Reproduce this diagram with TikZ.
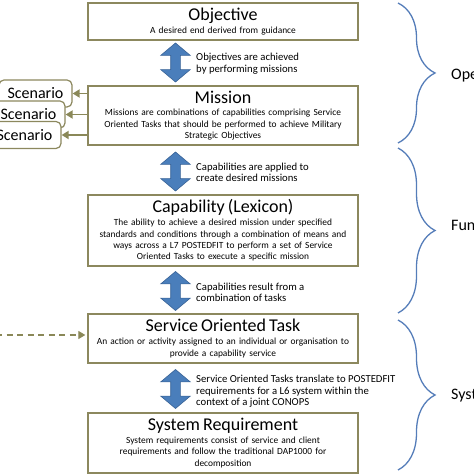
\documentclass[tikz,border=0pt]{standalone}
\usepackage{fontspec}
\setmainfont{Carlito}
\usetikzlibrary{shapes.arrows,arrows.meta,positioning,decorations.pathreplacing}
\definecolor{boxline}{RGB}{140,136,94}
\definecolor{olivetip}{RGB}{138,136,88}
\definecolor{arrowfill}{RGB}{74,126,187}
\definecolor{arrowline}{RGB}{56,98,150}
\definecolor{bracecol}{RGB}{85,125,185}

\newcommand{\boxtitle}[1]{{\fontsize{18}{19}\selectfont #1\par}\vspace{1.5pt}}

\tikzset{
    levelbox/.style={draw=boxline, line width=1.4pt, fill=white, minimum width=270pt, text width=268pt, align=center, inner sep=0pt, font=\fontsize{9.4}{11.4}\selectfont},
    linkarrow/.style={double arrow, draw=arrowline, fill=arrowfill, line width=0.6pt, shape border rotate=90, inner sep=4.5pt, minimum height=39pt, double arrow head extend=10pt, double arrow tip angle=100},
    arrowtext/.style={anchor=west, align=left, inner sep=0pt, font=\fontsize{10.7}{11.5}\selectfont},
    scenbox/.style={draw=boxline, line width=1.2pt, rounded corners=5pt, fill=white, minimum width=73pt, minimum height=27pt, font=\fontsize{16}{18}\selectfont},
    oarrow/.style={draw=olivetip, line width=1.8pt, -{Triangle[length=7pt,width=8pt]}},
    dashlink/.style={draw=olivetip, line width=1.3pt, dash pattern=on 6pt off 4.5pt, -{Triangle[length=7pt,width=8pt]}},
    sidelabel/.style={anchor=west, inner sep=0pt, font=\fontsize{16}{18}\selectfont},
    layerbrace/.style={draw=bracecol, line width=1.3pt, decorate, decoration={brace, amplitude=37pt}}
}

\begin{document}
\begin{tikzpicture}[x=1pt, y=1pt]
    \useasboundingbox (0,0) rectangle (474,474);
    \clip (0,0) rectangle (474,474);

    % the five levels
    \node[levelbox, minimum height=37pt] (objective) at (223,452.5) {\boxtitle{Objective}A desired end derived from guidance};
    \node[levelbox, minimum height=59pt] (mission) at (223,358.5) {\boxtitle{Mission}Missions are combinations of capabilities comprising Service\\Oriented Tasks that should be performed to achieve Military\\Strategic Objectives};
    \node[levelbox, minimum height=71pt] (capability) at (223,243.5) {\boxtitle{Capability (Lexicon)}The ability to achieve a desired mission under specified\\standards and conditions through a combination of means and\\ways across a L7 POSTEDFIT to perform a set of Service\\Oriented Tasks to execute a specific mission};
    \node[levelbox, minimum height=49pt] (task) at (223,135.5) {\boxtitle{Service Oriented Task}An action or activity assigned to an individual or organisation to\\provide a capability service};
    \node[levelbox, minimum height=60pt] (sysreq) at (223,31) {\boxtitle{System Requirement}System requirements consist of service and client\\requirements and follow the traditional DAP1000 for\\decomposition};

    % links between levels
    \node[linkarrow] (link1) at (175.5,411.5) {};
    \node[linkarrow] (link2) at (175.5,302.5) {};
    \node[linkarrow] (link3) at (175.5,183) {};
    \node[linkarrow] (link4) at (175.5,85) {};

    \node[arrowtext] (linktext1) at (196,410.5) {Objectives are achieved\\by performing missions};
    \node[arrowtext] (linktext2) at (196,301.5) {Capabilities are applied to\\create desired missions};
    \node[arrowtext] (linktext3) at (196,181.5) {Capabilities result from a\\combination of tasks};
    \node[arrowtext] (linktext4) at (196,82.5) {Service Oriented Tasks translate to POSTEDFIT\\requirements for a L6 system within the\\context of a joint CONOPS};

    % scenarios
    \node[scenbox] (scen1) at (35.5,380.5) {Scenario};
    \node[scenbox] (scen2) at (28.5,359.5) {Scenario};
    \node[scenbox] (scen3) at (24.5,339) {Scenario};

    \draw[oarrow] (mission.west |- scen1.east) -- (scen1.east);
    \draw[oarrow] (mission.west |- scen2.east) -- (scen2.east);
    \draw[oarrow] (mission.west |- scen3.east) -- (scen3.east);

    \coordinate (dashstart) at (-4,139);
    \draw[dashlink, shorten >=2pt] (dashstart) -- (task.west |- dashstart);

    % layers
    \draw[layerbrace] (398,471) -- (398,331);
    \draw[layerbrace] (398,326) -- (398,161);
    \draw[layerbrace] (398,154) -- (398,4);

    \node[sidelabel] (oplayer) at (451,399) {Operational};
    \node[sidelabel] (funlayer) at (451,249) {Functional};
    \node[sidelabel] (syslayer) at (451,78) {System};
\end{tikzpicture}
\end{document}
